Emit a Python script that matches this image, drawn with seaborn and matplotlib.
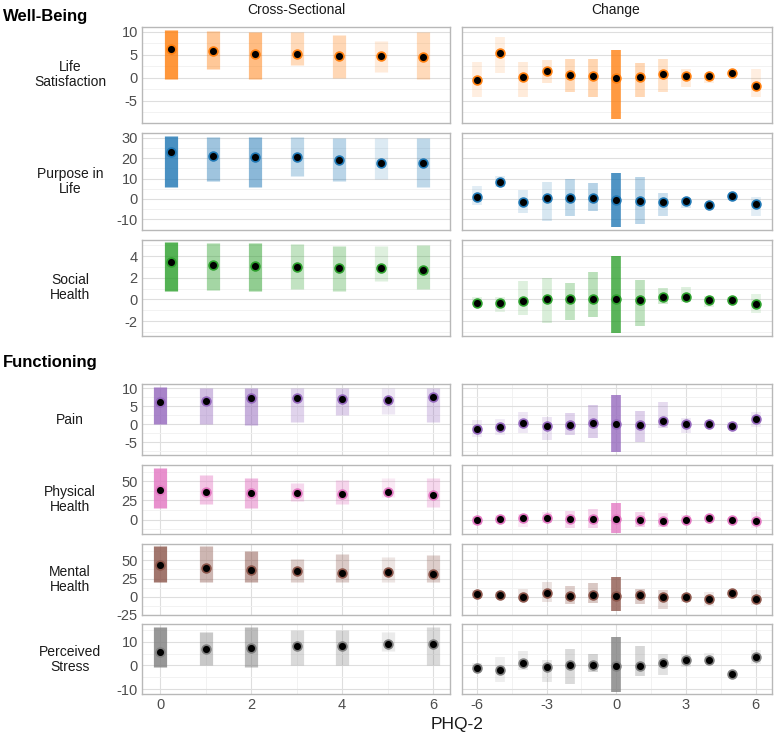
import numpy as np
import pandas as pd
import matplotlib
matplotlib.use("Agg")
import matplotlib.pyplot as plt
from matplotlib.ticker import MultipleLocator, NullFormatter
import seaborn as sns

# ---- data ----
measures = ["Life\nSatisfaction", "Purpose in\nLife", "Social\nHealth", "Pain",
            "Physical\nHealth", "Mental\nHealth", "Perceived\nStress"]
colors = ["#ff7f0e", "#1f77b4", "#2ca02c", "#9467bd", "#e377c2", "#8c564b", "#7f7f7f"]

cross_x = [0, 1, 2, 3, 4, 5, 6]
change_x = [-6, -5, -4, -3, -2, -1, 0, 1, 2, 3, 4, 5, 6]

# rough number of respondents in each PHQ-2 group (same people for every measure)
cross_n = [1000, 150, 250, 60, 70, 20, 60]
change_n = [15, 8, 20, 25, 60, 80, 900, 70, 40, 20, 12, 6, 15]

# Life Satisfaction
life_cross_mean = [6.3, 5.8, 5.2, 5.2, 4.7, 4.8, 4.4]
life_cross_lo = [-0.3, 1.8, -0.3, 2.8, 0.0, 1.2, -0.2]
life_cross_hi = [10.3, 10.2, 10.0, 10.0, 9.3, 8.0, 10.0]
life_change_mean = [-0.6, 5.3, 0.1, 1.4, 0.6, 0.3, 0.0, 0.1, 0.8, 0.4, 0.4, 1.0, -1.7]
life_change_lo = [-4.2, 1.1, -4.2, -1.2, -3.1, -4.1, -8.9, -4.1, -3.1, -2.1, -1.2, 0.8, -4.1]
life_change_hi = [3.4, 8.9, 3.4, 3.8, 4.1, 4.1, 6.1, 3.2, 4.1, 2.0, 1.1, 1.5, 2.0]

# Purpose in Life
purpose_cross_mean = [23.2, 21.1, 20.4, 20.4, 19.2, 17.6, 17.8]
purpose_cross_lo = [6.0, 8.8, 5.7, 11.4, 9.0, 10.0, 6.0]
purpose_cross_hi = [31.0, 30.5, 30.5, 30.5, 30.0, 30.0, 30.0]
purpose_change_mean = [0.8, 8.5, -1.6, 0.3, 0.3, 0.7, -0.3, -1.0, -1.3, -1.0, -3.1, 1.6, -2.6]
purpose_change_lo = [-2.9, 6.0, -7.0, -10.6, -8.2, -5.7, -13.5, -12.2, -8.2, -4.2, -3.7, 1.0, -8.2]
purpose_change_hi = [6.4, 11.3, 4.4, 8.5, 9.8, 7.7, 12.6, 10.9, 2.8, 0.3, -2.0, 2.3, 1.1]

# Social Health
social_cross_mean = [3.44, 3.22, 3.13, 2.97, 2.88, 2.94, 2.76]
social_cross_lo = [0.75, 0.9, 0.8, 1.0, 0.8, 1.7, 1.0]
social_cross_hi = [5.3, 5.2, 5.2, 5.1, 4.9, 4.9, 5.0]
social_change_mean = [-0.37, -0.31, -0.15, 0.0, 0.0, 0.06, 0.0, -0.06, 0.22, 0.19, -0.06, -0.03, -0.43]
social_change_lo = [-0.53, -1.15, -1.45, -2.17, -1.92, -1.6, -3.07, -2.48, -0.46, -0.28, -0.68, -0.2, -1.3]
social_change_hi = [0.25, 0.25, 1.7, 1.95, 1.49, 2.57, 4.05, 1.76, 1.02, 1.18, 0.34, 0.25, 0.46]

# Pain
pain_cross_mean = [6.2, 6.5, 7.2, 7.2, 7.0, 6.7, 7.5]
pain_cross_lo = [0.0, 0.0, -0.2, 0.5, 2.5, 2.8, 0.5]
pain_cross_hi = [10.3, 10.0, 10.0, 10.0, 10.0, 10.2, 10.0]
pain_change_mean = [-1.3, -0.75, 0.37, -0.56, -0.37, 0.37, 0.0, -0.28, 0.75, -0.1, -0.1, -0.47, 1.3]
pain_change_lo = [-3.7, -3.1, -2.6, -4.5, -3.1, -4.0, -7.8, -5.1, -1.2, -2.6, -0.9, -0.9, -0.9]
pain_change_hi = [1.1, 1.3, 3.5, 1.9, 3.2, 5.3, 8.1, 3.6, 6.3, 1.6, 1.1, 0.65, 3.5]

# Physical Health
physical_cross_mean = [38.3, 36.1, 34.3, 34.3, 33.9, 35.7, 32.6]
physical_cross_lo = [15.0, 20.0, 15.0, 24.0, 20.0, 30.0, 16.0]
physical_cross_hi = [68.0, 58.0, 55.0, 48.0, 52.0, 55.0, 54.0]
physical_change_mean = [0.0, 0.9, 2.2, 1.7, 1.3, 0.4, 0.4, 0.0, -1.7, -0.4, 1.7, -0.9, -1.7]
physical_change_lo = [-7.4, -4.3, -10.4, -5.2, -11.7, -11.7, -18.3, -9.6, -9.6, -5.2, -0.9, -3.5, -11.7]
physical_change_hi = [4.3, 5.7, 7.8, 10.0, 11.3, 14.3, 21.7, 10.0, 8.7, 5.7, 4.3, 2.6, 10.0]

# Mental Health
mental_cross_mean = [43.4, 38.9, 36.2, 34.8, 33.0, 33.5, 31.2]
mental_cross_lo = [20.0, 20.0, 20.0, 20.0, 20.0, 20.0, 20.0]
mental_cross_hi = [70.0, 69.0, 63.0, 52.0, 59.0, 54.0, 57.0]
mental_change_mean = [4.1, 2.7, -0.9, 5.4, 1.4, 1.8, 0.45, 2.3, -0.9, -0.45, -3.6, 5.4, -3.6]
mental_change_lo = [-1.4, -1.4, -4.5, -7.2, -10.4, -9.0, -19.5, -10.4, -16.3, -7.2, -12.7, 2.3, -11.8]
mental_change_hi = [9.0, 6.3, 10.9, 19.9, 14.5, 19.0, 27.0, 10.0, 9.0, 4.0, 6.3, 9.0, 9.0]

# Perceived Stress
stress_cross_mean = [5.6, 7.1, 7.55, 8.0, 8.25, 9.2, 9.2]
stress_cross_lo = [-0.5, 0.0, -0.5, 0.0, 0.0, 6.0, 0.0]
stress_cross_hi = [16.0, 14.0, 16.0, 15.0, 15.0, 14.0, 16.0]
stress_change_mean = [-1.0, -1.7, 1.0, -0.8, 0.14, 0.0, -0.28, -0.14, 0.84, 2.5, 2.4, -3.4, 3.6]
stress_change_lo = [-1.7, -7.0, -1.7, -6.9, -7.6, -2.7, -11.0, -4.3, -4.1, -0.6, 1.5, -3.4, 0.8]
stress_change_hi = [1.1, 3.4, 6.2, 2.5, 7.1, 4.8, 12.0, 8.1, 4.8, 5.0, 5.3, -3.4, 6.4]

cross_means = [life_cross_mean, purpose_cross_mean, social_cross_mean, pain_cross_mean,
               physical_cross_mean, mental_cross_mean, stress_cross_mean]
cross_los = [life_cross_lo, purpose_cross_lo, social_cross_lo, pain_cross_lo,
             physical_cross_lo, mental_cross_lo, stress_cross_lo]
cross_his = [life_cross_hi, purpose_cross_hi, social_cross_hi, pain_cross_hi,
             physical_cross_hi, mental_cross_hi, stress_cross_hi]
change_means = [life_change_mean, purpose_change_mean, social_change_mean, pain_change_mean,
                physical_change_mean, mental_change_mean, stress_change_mean]
change_los = [life_change_lo, purpose_change_lo, social_change_lo, pain_change_lo,
              physical_change_lo, mental_change_lo, stress_change_lo]
change_his = [life_change_hi, purpose_change_hi, social_change_hi, pain_change_hi,
              physical_change_hi, mental_change_hi, stress_change_hi]

# ---- layout ----
W, H = 775, 738
row_px = [(26.7, 123), (133.3, 230), (240, 335.7),
          (384.3, 455), (465, 534), (544.3, 615), (624.3, 694.3)]
col_px = [(142, 450), (462, 772)]
ylims = [(-9.85, 11.1), (-15.2, 32.2), (-3.36, 5.5), (-8.6, 11.1),
         (-19, 71.5), (-25, 72), (-12.1, 17.3)]
ysteps = [5, 10, 2, 5, 25, 25, 10]

sns.set_theme(style="white")
plt.rcParams['font.family'] = ['Liberation Sans', 'DejaVu Sans']
plt.rcParams['axes.unicode_minus'] = False

fig = plt.figure(figsize=(W / 100, H / 100), dpi=100)
grey_txt = "#4d4d4d"
edge_col = "#b8b8b8"

for i, label in enumerate(measures):
    top, bottom = row_px[i]
    wellbeing = i < 3
    for j in range(2):
        left, right = col_px[j]
        ax = fig.add_axes([left / W, 1 - bottom / H, (right - left) / W, (bottom - top) / H])
        if j == 0:
            xs, lo, hi, mu, n = cross_x, cross_los[i], cross_his[i], cross_means[i], cross_n
            lw = 9.5
            ax.set_xlim((-0.69, 6.64) if wellbeing else (-0.4, 6.37))
            ax.xaxis.set_major_locator(MultipleLocator(2))
            ax.xaxis.set_minor_locator(MultipleLocator(1))
        else:
            xs, lo, hi, mu, n = change_x, change_los[i], change_his[i], change_means[i], change_n
            lw = 7.0
            ax.set_xlim(-6.65, 6.71)
            ax.xaxis.set_major_locator(MultipleLocator(3))
            ax.xaxis.set_minor_locator(MultipleLocator(1.5))

        alphas = np.clip(0.09 * np.log10(np.array(n)) ** 2, 0.12, 0.9)
        for x, l, h, a in zip(xs, lo, hi, alphas):
            ax.vlines(x, l, h, color=colors[i], alpha=a, lw=lw, capstyle="butt", zorder=2)

        df = pd.DataFrame({"x": xs, "mean": mu})
        sns.scatterplot(data=df, x="x", y="mean", ax=ax, color="black",
                        edgecolor=colors[i], s=40, linewidth=1.2, zorder=5, legend=False)

        ax.set_ylim(*ylims[i])
        ax.yaxis.set_major_locator(MultipleLocator(ysteps[i]))
        ax.yaxis.set_minor_locator(MultipleLocator(ysteps[i] / 2))
        ax.grid(which="major", axis="y", color="#dedede", lw=0.8, zorder=0)
        ax.grid(which="minor", axis="y", color="#f0f0f0", lw=0.6, zorder=0)
        if not wellbeing:
            ax.grid(which="major", axis="x", color="#dedede", lw=0.8, zorder=0)
            ax.grid(which="minor", axis="x", color="#f0f0f0", lw=0.6, zorder=0)
        ax.set_axisbelow(True)
        ax.set_xlabel("")
        ax.set_ylabel("")
        for s in ax.spines.values():
            s.set_color(edge_col)
            s.set_linewidth(1.0)
        ax.tick_params(which="both", length=0, labelsize=10.5, labelcolor=grey_txt, pad=3)
        if j == 1:
            ax.yaxis.set_major_formatter(NullFormatter())
        if i < 6:
            ax.xaxis.set_major_formatter(NullFormatter())

    fig.text(70 / W, 1 - (top + bottom) / 2 / H, label, ha="center", va="center",
             fontsize=10, color="#1a1a1a", linespacing=1.1)

fig.text(3 / W, 1 - 16 / H, "Well-Being", ha="left", va="center",
         fontsize=12, fontweight="bold", color="black")
fig.text(3 / W, 1 - 362 / H, "Functioning", ha="left", va="center",
         fontsize=12, fontweight="bold", color="black")
fig.text(296 / W, 1 - 10 / H, "Cross-Sectional", ha="center", va="center",
         fontsize=10, color="#1a1a1a")
fig.text(616 / W, 1 - 10 / H, "Change", ha="center", va="center",
         fontsize=10, color="#1a1a1a")
fig.text(457 / W, 1 - 724 / H, "PHQ-2", ha="center", va="center",
         fontsize=12.5, color="#1a1a1a")

fig.savefig("out.png", dpi=100)
